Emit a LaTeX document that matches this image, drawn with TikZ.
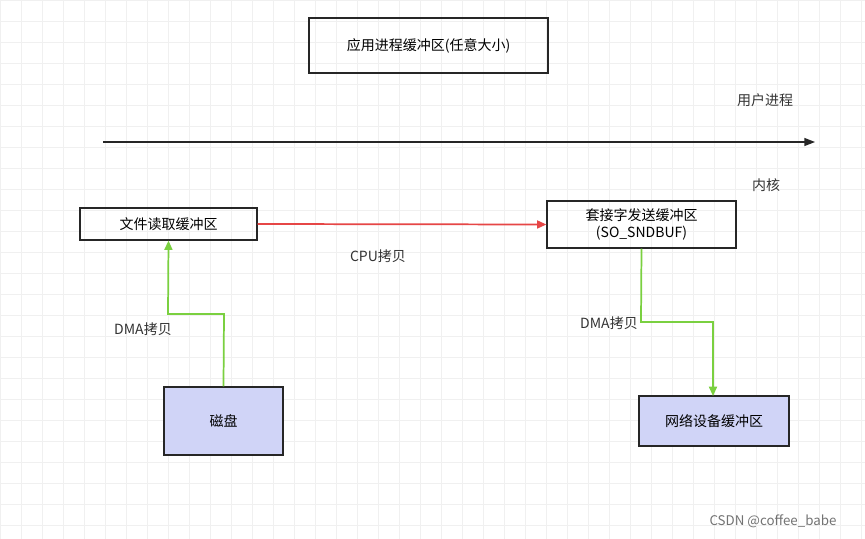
\documentclass[tikz,border=0pt]{standalone}
\usepackage{fontspec}
\setmainfont{Noto Sans CJK SC}
\usetikzlibrary{arrows.meta}
\begin{document}
\begin{tikzpicture}[x=0.75pt,y=-0.75pt,
  box/.style={draw=black!85,line width=0.9pt,inner sep=0pt,font=\fontsize{10.5}{13}\selectfont,align=center},
  lav/.style={box,fill={rgb,255:red,208;green,212;blue,247}},
  lbl/.style={font=\fontsize{10.5}{13}\selectfont,text=black!80},
  grn/.style={draw={rgb,255:red,122;green,208;blue,64},line width=1.3pt,-{Triangle[length=7pt,width=6pt]}}]
\useasboundingbox (0,0) rectangle (865,539);
\fill[white] (0,0) rectangle (865,539);
\foreach \i in {0,...,41}{\draw[black!6,line width=0.4pt] (\i*21,0) -- (\i*21,539);}
\foreach \j in {0,...,25}{\draw[black!6,line width=0.4pt] (0,\j*21) -- (865,\j*21);}
\node[box,minimum width=239*0.75pt,minimum height=55*0.75pt] (app) at (428.5,45.5) {应用进程缓冲区(任意大小)};
\node[lbl] (user) at (765,100) {用户进程};
\coordinate (la) at (103,142); \coordinate (lb) at (815,142);
\draw[black!85,line width=1pt,-{Triangle[length=8pt,width=6pt]}] (la) -- (lb);
\node[lbl] (kern) at (766,185) {内核};
\node[box,minimum width=177*0.75pt,minimum height=32*0.75pt] (file) at (168.5,224) {文件读取缓冲区};
\node[box,minimum width=189*0.75pt,minimum height=47*0.75pt] (sock) at (641.5,224.5) {套接字发送缓冲区\\(SO\_SNDBUF)};
\draw[draw={rgb,255:red,230;green,70;blue,70},line width=1.3pt,-{Triangle[length=7pt,width=6pt]}] (file.east) -- (sock.west);
\node[lbl] (cpu) at (378,256) {CPU拷贝};
\node[lav,minimum width=119*0.75pt,minimum height=68*0.75pt] (disk) at (223.5,421) {磁盘};
\node[lav,minimum width=150*0.75pt,minimum height=50*0.75pt] (net) at (714,421) {网络设备缓冲区};
\draw[grn] (disk.north) -- (224,314) -- (168,314) -- (file.south);
\node[lbl] (dma1) at (143,329) {DMA拷贝};
\draw[grn] (sock.south) -- (641,322) -- (713,322) -- (713,396);
\node[lbl] (dma2) at (609,323) {DMA拷贝};
\node[font=\fontsize{10}{12}\selectfont,text=black!55] (csdn) at (773,521) {CSDN @coffee\_babe};
\end{tikzpicture}
\end{document}
